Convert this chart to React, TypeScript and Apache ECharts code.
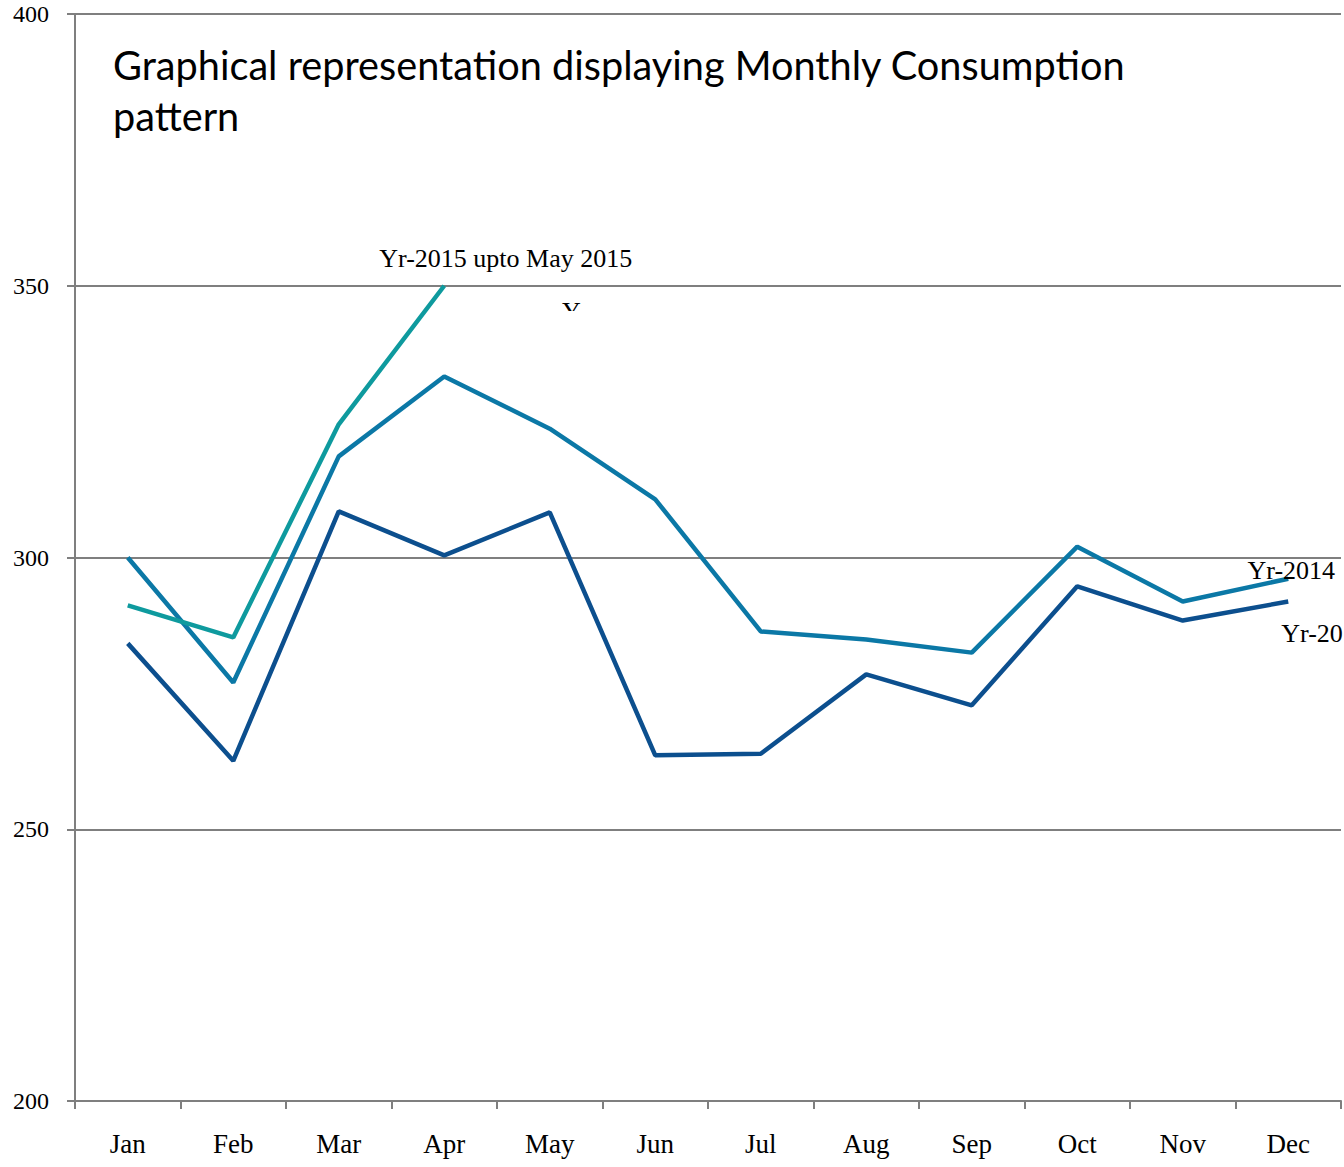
import React, { useEffect, useRef } from "react";
import * as echarts from "echarts";

const months = ["Jan", "Feb", "Mar", "Apr", "May", "Jun", "Jul", "Aug", "Sep", "Oct", "Nov", "Dec"];
const yr2015 = [291.2, 285.3, 324.5, 350];
const yr2014 = [300, 277, 318.6, 333.3, 323.7, 310.7, 286.4, 284.9, 282.5, 302, 291.9, 296.1];
const yr2013 = [284.2, 262.6, 308.5, 300.4, 308.3, 263.6, 263.9, 278.5, 272.8, 294.7, 288.4, 291.9];
const yTicks = { min: 200, max: 400, interval: 50 };
const titleText = "Graphical representation displaying Monthly Consumption\npattern";

const serif = "Liberation Serif";

function endLabel(text: string, offset: number[], align: string) {
  return {
    show: true,
    formatter: text,
    distance: 0,
    offset,
    align,
    verticalAlign: "middle",
    color: "#000",
    fontFamily: serif,
    fontSize: 26,
  };
}

export default function App() {
  const ref = useRef<HTMLDivElement>(null);
  useEffect(() => {
    const chart = echarts.init(ref.current!, null, { renderer: "svg" });
    chart.setOption({
      animation: false,
      backgroundColor: "#fff",
      title: {
        text: titleText,
        left: 108,
        top: 34,
        textStyle: { fontFamily: "Lato", fontSize: 39.7, fontWeight: "normal", color: "#000", lineHeight: 51 },
      },
      grid: { left: 75, right: 3, top: 14, bottom: 66 },
      xAxis: {
        type: "category",
        data: months,
        boundaryGap: true,
        axisLine: { lineStyle: { color: "#7f7f7f", width: 2 } },
        axisTick: { show: true, length: 8, lineStyle: { color: "#7f7f7f", width: 2 } },
        axisLabel: { margin: 29, color: "#000", fontFamily: serif, fontSize: 27 },
      },
      yAxis: {
        type: "value",
        min: yTicks.min,
        max: yTicks.max,
        interval: yTicks.interval,
        axisLine: { show: true, lineStyle: { color: "#7f7f7f", width: 2 } },
        axisTick: { show: true, length: 8, lineStyle: { color: "#7f7f7f", width: 2 } },
        splitLine: { lineStyle: { color: "#7f7f7f", width: 2 } },
        axisLabel: { margin: 26, color: "#000", fontFamily: serif, fontSize: 24 },
      },
      graphic: [
        {
          type: "text",
          left: 562,
          top: 298,
          z: 10,
          style: { text: "Y", font: `26px "${serif}"`, fill: "#000" },
        },
        {
          type: "rect",
          shape: { x: 550, y: 311, width: 50, height: 20 },
          z: 100,
          style: { fill: "#fff" },
        },
      ],
      series: [
        {
          name: "Yr-2013",
          type: "line",
          data: yr2013,
          symbol: "none",
          lineStyle: { color: "#0c4f8e", width: 4.5 },
          itemStyle: { color: "#0c4f8e" },
          endLabel: endLabel("Yr-2013", [-7, 32], "left"),
          z: 2,
        },
        {
          name: "Yr-2014",
          type: "line",
          data: yr2014,
          symbol: "none",
          lineStyle: { color: "#0b78a6", width: 4.5 },
          itemStyle: { color: "#0b78a6" },
          endLabel: endLabel("Yr-2014", [3, -8], "center"),
          z: 3,
        },
        {
          name: "Yr-2015",
          type: "line",
          data: yr2015,
          symbol: "none",
          lineStyle: { color: "#0e9a9e", width: 4.5 },
          itemStyle: { color: "#0e9a9e" },
          endLabel: endLabel("Yr-2015 upto May 2015", [-65, -27], "left"),
          z: 4,
        },
      ],
    });
    return () => chart.dispose();
  }, []);
  return (
    <div
      ref={ref}
      style={{ position: "fixed", left: 0, top: 0, width: 1344, height: 1167, background: "#fff" }}
    />
  );
}
